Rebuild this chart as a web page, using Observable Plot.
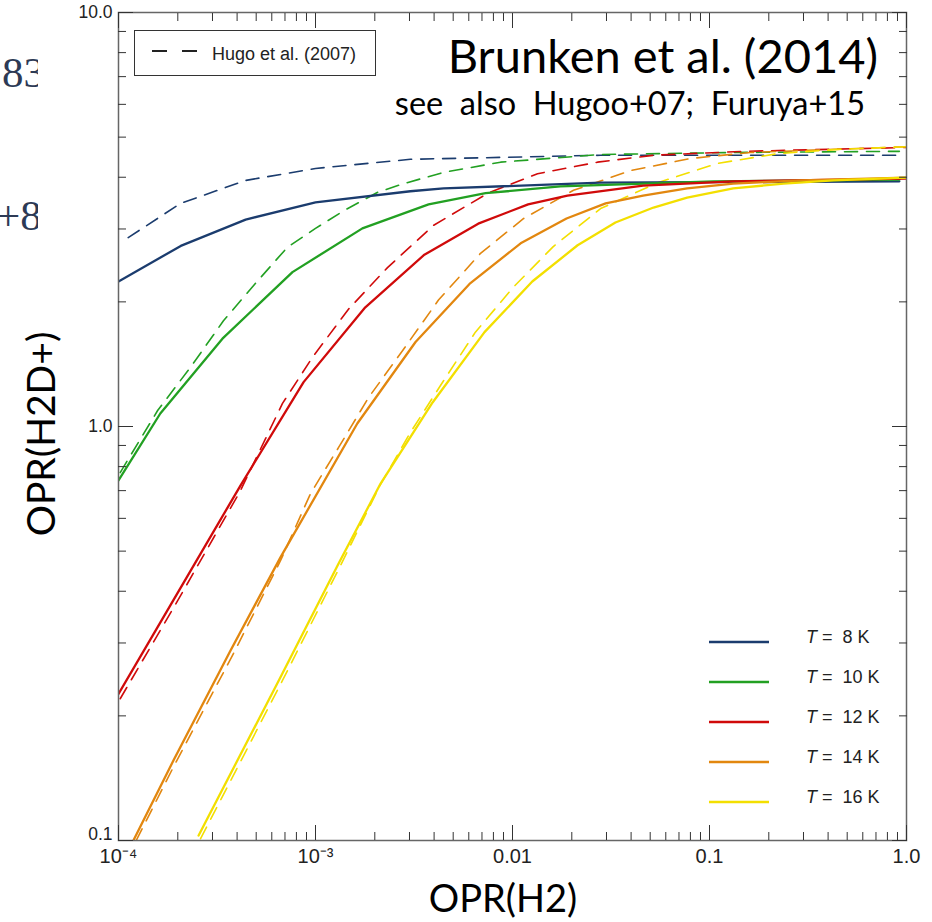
<!DOCTYPE html>
<html><head><meta charset="utf-8">
<script src="https://cdn.jsdelivr.net/npm/d3@7"></script>
<script src="https://cdn.jsdelivr.net/npm/@observablehq/plot@0.6"></script>
<style>
html,body{margin:0;padding:0;background:#fff;}
#wrap{position:relative;width:932px;height:922px;overflow:hidden;background:#fff;}
#chart{position:absolute;left:0;top:0;}
#over{position:absolute;left:0;top:0;pointer-events:none;}
</style></head><body>
<div id="wrap"><div id="chart"></div>
<svg id="over" width="932" height="922" xmlns="http://www.w3.org/2000/svg"></svg>
</div>
<script>
// ---------- data ----------
const temps = ["8", "10", "12", "14", "16"];
const colors = ["#1b3c6e", "#22a022", "#d00a0a", "#e2870f", "#f3df00"];
const legendLabels = ["8 K", "10 K", "12 K", "14 K", "16 K"];

// Brunken et al. (2014) — solid
const t8SolidX  = [1e-4, 2.07e-4, 4.42e-4, 1e-3, 3.03e-3, 4.47e-3, 0.028, 0.92];
const t8SolidY  = [2.24, 2.73, 3.16, 3.48, 3.70, 3.76, 3.88, 3.91];
const t10SolidX = [1e-4, 1.63e-4, 3.37e-4, 7.64e-4, 1.73e-3, 3.75e-3, 7.3e-3, 0.0175, 0.105, 0.92];
const t10SolidY = [0.741, 1.075, 1.63, 2.36, 3.01, 3.44, 3.66, 3.80, 3.91, 3.95];
const t12SolidX = [1e-4, 2.0e-4, 4.16e-4, 8.7e-4, 1.79e-3, 3.57e-3, 6.7e-3, 0.012, 0.019, 0.046, 0.132, 1];
const t12SolidY = [0.226, 0.397, 0.720, 1.28, 1.94, 2.60, 3.09, 3.44, 3.61, 3.82, 3.91, 3.97];
const t14SolidX = [1.19e-4, 1.90e-4, 3.71e-4, 6.64e-4, 1.63e-3, 3.22e-3, 6.05e-3, 0.011, 0.0188, 0.0297, 0.046, 0.077, 0.132, 0.29, 1];
const t14SolidY = [0.1, 0.156, 0.288, 0.483, 1.017, 1.60, 2.21, 2.77, 3.18, 3.46, 3.61, 3.76, 3.86, 3.93, 3.99];
const t16SolidX = [2.55e-4, 6.64e-4, 1.31e-3, 2.14e-3, 3.93e-3, 7.21e-3, 0.0126, 0.0214, 0.0333, 0.052, 0.077, 0.132, 0.238, 0.426, 1];
const t16SolidY = [0.1028, 0.248, 0.467, 0.728, 1.143, 1.69, 2.24, 2.74, 3.11, 3.38, 3.57, 3.76, 3.86, 3.93, 3.99];

// Hugo et al. (2007) — dashed
const t8DashX  = [1.12e-4, 2.07e-4, 4.42e-4, 1e-3, 3.03e-3, 0.028, 0.92];
const t8DashY  = [2.86, 3.46, 3.93, 4.20, 4.42, 4.52, 4.52];
const t10DashX = [1.02e-4, 1.58e-4, 2.32e-4, 3.41e-4, 4.95e-4, 7.2e-4, 1e-3, 1.39e-3, 2.07e-3, 2.8e-3, 4.47e-3, 8.7e-3, 0.028, 0.132, 0.92];
const t10DashY = [0.774, 1.093, 1.39, 1.80, 2.215, 2.71, 3.01, 3.32, 3.68, 3.86, 4.11, 4.35, 4.54, 4.59, 4.62];
const t12DashX = [1.02e-4, 2.0e-4, 4.16e-4, 6.8e-4, 9.66e-4, 1.47e-3, 2.32e-3, 3.97e-3, 7.5e-3, 0.0134, 0.027, 0.052, 0.149, 1];
const t12DashY = [0.220, 0.380, 0.70, 1.137, 1.47, 1.92, 2.42, 3.06, 3.66, 4.08, 4.35, 4.52, 4.62, 4.72];
const t14DashX = [1.23e-4, 1.92e-4, 3.79e-4, 6.64e-4, 9.44e-4, 1.31e-3, 1.86e-3, 2.77e-3, 4.21e-3, 6.88e-3, 0.0114, 0.0204, 0.0397, 0.080, 0.161, 0.426, 1];
const t14DashY = [0.1, 0.152, 0.280, 0.474, 0.689, 0.890, 1.175, 1.526, 2.02, 2.62, 3.18, 3.72, 4.15, 4.44, 4.59, 4.67, 4.74];
const t16DashX = [2.61e-4, 6.8e-4, 1.34e-3, 2.14e-3, 3.03e-3, 4.31e-3, 6.48e-3, 0.0101, 0.0161, 0.028, 0.0545, 0.110, 0.221, 0.447, 1];
const t16DashY = [0.101, 0.2435, 0.4617, 0.725, 0.967, 1.256, 1.69, 2.17, 2.72, 3.36, 3.88, 4.32, 4.56, 4.67, 4.74];

// axes
const xMajor = [1e-4, 1e-3, 1e-2, 1e-1, 1];
const xTickLabels = ["10\u207B\u2074", "10\u207B\u00B3", "0.01", "0.1", "1.0"];
const yMajor = [0.1, 1, 10];
const yTickLabels = ["0.1", "1.0", "10.0"];
const minorMult = [2, 3, 4, 5, 6, 7, 8, 9];
const xDecades = [1e-4, 1e-3, 1e-2, 1e-1];
const yDecades = [0.1, 1];

// ---------- build ----------
const series = [
  {T: "8",  model: "Hugo", xs: t8DashX,  ys: t8DashY},
  {T: "10", model: "Hugo", xs: t10DashX, ys: t10DashY},
  {T: "12", model: "Hugo", xs: t12DashX, ys: t12DashY},
  {T: "14", model: "Hugo", xs: t14DashX, ys: t14DashY},
  {T: "16", model: "Hugo", xs: t16DashX, ys: t16DashY},
  {T: "8",  model: "Brunken", xs: t8SolidX,  ys: t8SolidY},
  {T: "10", model: "Brunken", xs: t10SolidX, ys: t10SolidY},
  {T: "12", model: "Brunken", xs: t12SolidX, ys: t12SolidY},
  {T: "14", model: "Brunken", xs: t14SolidX, ys: t14SolidY},
  {T: "16", model: "Brunken", xs: t16SolidX, ys: t16SolidY}
];
const rows = series.flatMap(s => s.xs.map((x, i) => ({T: s.T, model: s.model, key: s.model + s.T, x, y: s.ys[i]})));
const xMinor = xDecades.flatMap(d => minorMult.map(m => d * m));
const yMinor = yDecades.flatMap(d => minorMult.map(m => d * m));
const blank = () => "";
const yFmt = d => yTickLabels[yMajor.indexOf(d)];

const chart = Plot.plot({
  width: 932, height: 922,
  marginLeft: 118, marginRight: 26, marginTop: 12, marginBottom: 82,
  x: {type: "log", domain: [1e-4, 1], label: null},
  y: {type: "log", domain: [0.1, 10], label: null},
  color: {domain: temps, range: colors},
  style: {fontFamily: "'Liberation Sans', Arial, sans-serif", background: "#fff", color: "#222"},
  marks: [
    Plot.line(rows.filter(d => d.model === "Hugo"), {x: "x", y: "y", z: "key", stroke: "T", strokeWidth: 1.6, strokeDasharray: "13,9", clip: true}),
    Plot.line(rows.filter(d => d.model === "Brunken"), {x: "x", y: "y", z: "key", stroke: "T", strokeWidth: 2.3, clip: true}),
    Plot.frame({stroke: "#666", strokeWidth: 1.5}),
    // inward ticks
    Plot.axisX({anchor: "bottom", ticks: xMajor, tickSize: -15, tickFormat: blank, stroke: "#333", label: null}),
    Plot.axisX({anchor: "bottom", ticks: xMinor, tickSize: -8, tickFormat: blank, stroke: "#333", label: null}),
    Plot.axisX({anchor: "top", ticks: xMajor, tickSize: -15, tickFormat: blank, stroke: "#333", label: null}),
    Plot.axisX({anchor: "top", ticks: xMinor, tickSize: -8, tickFormat: blank, stroke: "#333", label: null}),
    Plot.axisY({anchor: "left", ticks: yMajor, tickSize: -15, tickFormat: blank, stroke: "#333", label: null}),
    Plot.axisY({anchor: "left", ticks: yMinor, tickSize: -8, tickFormat: blank, stroke: "#333", label: null}),
    Plot.axisY({anchor: "right", ticks: yMajor, tickSize: -15, tickFormat: blank, stroke: "#333", label: null}),
    Plot.axisY({anchor: "right", ticks: yMinor, tickSize: -8, tickFormat: blank, stroke: "#333", label: null}),
    // tick labels
    Plot.axisX({anchor: "bottom", ticks: xMajor, tickSize: 0, tickPadding: 8, fontSize: 20,
      tickFormat: d => xTickLabels[xMajor.indexOf(d)], label: null}),
    Plot.axisY({anchor: "left", ticks: yMajor.slice(1), tickSize: 0, tickPadding: 6, fontSize: 17.5,
      tickFormat: yFmt, label: null}),
    Plot.axisY({anchor: "left", ticks: yMajor.slice(0, 1), tickSize: 0, tickPadding: 6, fontSize: 17.5, dy: -6,
      tickFormat: yFmt, label: null})
  ]
});
document.getElementById("chart").append(chart);

// ---------- overlay texts & legends ----------
const NS = "http://www.w3.org/2000/svg";
const over = document.getElementById("over");
function el(tag, attrs, text) {
  const e = document.createElementNS(NS, tag);
  for (const k in attrs) e.setAttribute(k, attrs[k]);
  if (text != null) e.textContent = text;
  over.appendChild(e);
  return e;
}
// cropped fragments at left edge
const defs = el("defs", {});
const cp = document.createElementNS(NS, "clipPath"); cp.setAttribute("id", "fragclip");
const cr = document.createElementNS(NS, "rect");
cr.setAttribute("x", 0); cr.setAttribute("y", 0); cr.setAttribute("width", 38); cr.setAttribute("height", 300);
cp.appendChild(cr); defs.appendChild(cp);
const g = el("g", {"clip-path": "url(#fragclip)"});
for (const [t, x, y] of [["83", 2, 87], ["+8", -4, 230]]) {
  const e = document.createElementNS(NS, "text");
  e.setAttribute("x", x); e.setAttribute("y", y);
  e.setAttribute("font-family", "'Liberation Serif', 'Times New Roman', serif");
  e.setAttribute("font-size", 43); e.setAttribute("fill", "#2d3a55");
  e.textContent = t; g.appendChild(e);
}
// top-left legend
el("rect", {x: 134.5, y: 30.5, width: 241, height: 45, fill: "#fff", stroke: "#333", "stroke-width": 1});
el("line", {x1: 152, x2: 197, y1: 51, y2: 51, stroke: "#222", "stroke-width": 2, "stroke-dasharray": "15,15"});
el("text", {x: 212, y: 60, "font-family": "'Liberation Sans', Arial, sans-serif", "font-size": 18, fill: "#222"}, "Hugo et al. (2007)");
// title & subtitle
el("text", {x: 878, y: 73, "text-anchor": "end", "font-family": "Lato, 'Open Sans', sans-serif", "font-size": 47, fill: "#000"}, "Brunken et al. (2014)");
el("text", {x: 865, y: 115, "text-anchor": "end", "font-family": "Lato, 'Open Sans', sans-serif", "font-size": 32.5, fill: "#000", "xml:space": "preserve", style: "white-space:pre"}, "see  also  Hugoo+07;  Furuya+15");
// axis titles
el("text", {x: 503, y: 912, "text-anchor": "middle", "font-family": "Lato, 'Open Sans', sans-serif", "font-size": 38, fill: "#000"}, "OPR(H2)");
el("text", {transform: "translate(55,434) rotate(-90)", "text-anchor": "middle", "font-family": "Lato, 'Open Sans', sans-serif", "font-size": 39, fill: "#000"}, "OPR(H2D+)");
// temperature legend
temps.forEach((t, i) => {
  const y = 642 + 40 * i;
  el("line", {x1: 709, x2: 769, y1: y, y2: y, stroke: colors[i], "stroke-width": 2.5});
  const tx = el("text", {x: 806, y: y + 1, "font-family": "'Liberation Sans', Arial, sans-serif", "font-size": 18, fill: "#222", style: "white-space:pre"});
  const ts1 = document.createElementNS(NS, "tspan"); ts1.setAttribute("font-style", "italic"); ts1.textContent = "T";
  const ts2 = document.createElementNS(NS, "tspan"); ts2.textContent = " =  " + legendLabels[i];
  tx.appendChild(ts1); tx.appendChild(ts2);
});
</script>
</body></html>
